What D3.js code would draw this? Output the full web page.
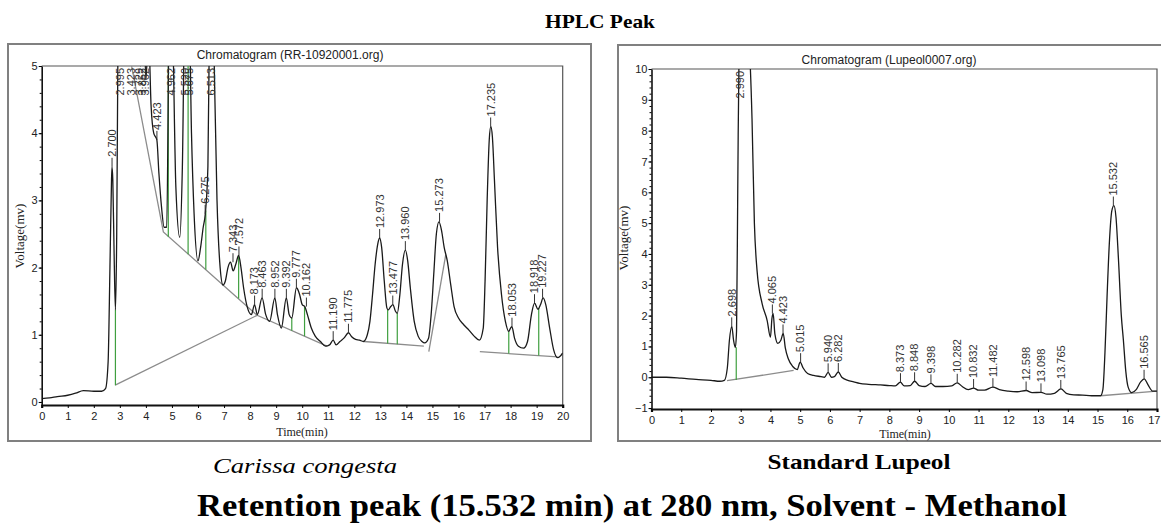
<!DOCTYPE html>
<html>
<head>
<meta charset="utf-8">
<script src="https://cdn.jsdelivr.net/npm/d3@7"></script>
<style>
  body { margin: 0; background: #fff; }
  svg { display: block; }
</style>
</head>
<body>
<div id="chart"></div>
<script>
// ---- data: [time (min), voltage (mv)] ----
const sampleTrace = [
  [0,0.05],[0.3,0.06],[0.6,0.08],[1.0,0.1],[1.3,0.13],[1.6,0.17],[2.0,0.16],[2.3,0.16],[2.45,0.2],
  [2.55,0.6],[2.62,2.0],[2.68,3.3],[2.70,3.5],[2.73,3.3],[2.78,2.2],[2.83,1.37],[2.88,2.5],[2.93,5.5],
  [2.98,7],[3.1,6.5],[3.25,5.8],[3.35,5.3],[3.42,6],[3.5,5.4],[3.6,5.1],[3.7,6],[3.8,5],[3.9,6],
  [4.0,4.8],[4.1,5.5],[4.2,4.4],[4.3,4.0],[4.42,3.9],[4.5,3.4],[4.6,2.9],[4.7,2.6],[4.8,2.6],
  [4.88,5.5],[4.96,7],[5.05,5.2],[5.15,3.2],[5.3,2.45],[5.4,3.5],[5.5,6],[5.58,5.2],[5.65,6],
  [5.75,4],[5.85,2.8],[6.0,2.1],[6.1,2.3],[6.2,2.6],[6.28,2.8],[6.38,3.5],[6.45,6],[6.52,7],
  [6.6,5.5],[6.73,3.0],[6.85,2.0],[6.96,1.74],[7.05,1.8],[7.15,2.0],[7.25,2.08],[7.35,1.95],
  [7.45,2.05],[7.56,2.18],[7.65,2.0],[7.75,1.7],[7.9,1.4],[8.05,1.3],[8.17,1.45],[8.28,1.3],
  [8.46,1.55],[8.6,1.3],[8.75,1.2],[8.95,1.55],[9.05,1.3],[9.2,1.1],[9.39,1.55],[9.5,1.3],
  [9.6,1.25],[9.78,1.7],[9.9,1.6],[10.0,1.45],[10.1,1.42],[10.2,1.3],[10.35,1.1],[10.5,0.98],
  [10.7,0.9],[10.9,0.83],[11.05,0.85],[11.19,0.92],[11.3,0.85],[11.45,0.9],[11.6,0.95],
  [11.78,1.03],[11.9,0.97],[12.05,0.93],[12.2,0.92],[12.35,0.9],[12.5,1.0],[12.6,1.2],[12.7,1.6],
  [12.8,2.05],[12.9,2.35],[12.97,2.44],[13.05,2.3],[13.15,1.8],[13.25,1.4],[13.3,1.37],
  [13.4,1.42],[13.48,1.45],[13.58,1.35],[13.65,1.32],[13.75,1.6],[13.85,2.05],[13.96,2.26],
  [14.05,2.1],[14.15,1.7],[14.3,1.2],[14.45,0.98],[14.6,0.9],[14.7,0.88],[14.85,0.95],[14.95,1.3],
  [15.05,1.9],[15.15,2.5],[15.25,2.68],[15.35,2.55],[15.45,2.3],[15.57,2.1],[15.7,1.75],
  [15.83,1.42],[16.0,1.25],[16.2,1.15],[16.4,1.07],[16.6,0.98],[16.8,0.92],[16.95,1.1],
  [17.02,1.8],[17.1,3.0],[17.18,3.9],[17.24,4.1],[17.3,3.95],[17.38,3.3],[17.5,2.3],[17.65,1.6],
  [17.8,1.2],[17.93,1.05],[18.0,1.1],[18.05,1.12],[18.15,0.95],[18.3,0.83],[18.5,0.8],
  [18.65,0.9],[18.8,1.3],[18.92,1.47],[19.05,1.38],[19.15,1.45],[19.25,1.55],[19.35,1.45],
  [19.5,1.1],[19.65,0.78],[19.8,0.66],[19.9,0.68],[20.0,0.73]
];

// [retention time, label, apex voltage]
const samplePeaks = [
  [2.700,"2.700",3.5],[2.995,"2.995",9],[3.423,"3.423",9],[3.729,"3.729",9],[3.852,"3.852",9],
  [3.962,"3.962",9],[4.423,"4.423",3.9],[4.962,"4.962",9],[5.520,"5.520",9],[5.675,"5.675",9],
  [6.275,"6.275",2.8],[6.513,"6.513",9],[7.343,"7.343",2.08],[7.572,"7.572",2.18],
  [8.173,"8.173",1.45],[8.463,"8.463",1.55],[8.952,"8.952",1.55],[9.392,"9.392",1.55],
  [9.777,"9.777",1.7],[10.162,"10.162",1.42],[11.190,"11.190",0.92],[11.775,"11.775",1.03],
  [12.973,"12.973",2.44],[13.477,"13.477",1.45],[13.960,"13.960",2.26],[15.273,"15.273",2.68],
  [17.235,"17.235",4.1],[18.053,"18.053",1.12],[18.918,"18.918",1.47],[19.227,"19.227",1.55]
];

const sampleBaselines = [
  [[2.82,0.25],[8.27,1.29]],
  [[3.45,5.0],[4.67,2.53],[8.27,1.29],[10.95,0.83]],
  [[12.37,0.9],[14.67,0.83]],
  [[14.86,0.75],[15.51,2.19]],
  [[16.82,0.75],[19.8,0.67]]
];

// green drop lines: [time, from, to]
const sampleDrops = [
  [2.83,0.25,1.37],[4.86,2.46,5],[5.62,2.2,5],[6.3,1.97,2.85],[7.56,1.54,2.18],[9.6,1.06,1.25],
  [10.09,0.98,1.42],[13.28,0.87,1.37],[13.65,0.86,1.32],[17.93,0.72,1.05],[19.08,0.69,1.4]
];

const standardTrace = [
  [0,0.0],[0.5,0.0],[1.0,-0.03],[1.5,-0.07],[2.0,-0.1],[2.3,-0.13],[2.45,-0.1],[2.55,0.3],
  [2.62,1.2],[2.7,1.65],[2.76,1.2],[2.82,0.97],[2.86,1.5],[2.9,6],[2.95,11],[3.1,12],[3.3,10.5],
  [3.38,8.4],[3.46,5.0],[3.55,3.46],[3.72,2.39],[3.89,1.84],[4.0,1.3],[4.05,1.9],[4.09,2.07],
  [4.15,1.4],[4.25,1.1],[4.35,1.2],[4.43,1.42],[4.5,0.95],[4.6,0.6],[4.75,0.35],[4.9,0.25],
  [5.0,0.49],[5.1,0.3],[5.25,0.12],[5.45,0.06],[5.7,0.02],[5.82,0.0],[5.94,0.16],[6.05,0.0],
  [6.15,0.02],[6.28,0.17],[6.4,0.0],[6.6,-0.1],[6.8,-0.15],[7.0,-0.2],[7.3,-0.23],[7.7,-0.25],
  [8.0,-0.27],[8.2,-0.28],[8.37,-0.16],[8.5,-0.28],[8.7,-0.27],[8.85,-0.13],[9.0,-0.27],
  [9.2,-0.3],[9.4,-0.2],[9.55,-0.3],[9.8,-0.3],[10.1,-0.28],[10.28,-0.18],[10.45,-0.3],
  [10.65,-0.4],[10.83,-0.35],[11.0,-0.42],[11.2,-0.42],[11.48,-0.32],[11.7,-0.4],[12.0,-0.45],
  [12.3,-0.47],[12.6,-0.43],[12.8,-0.5],[13.1,-0.49],[13.3,-0.55],[13.55,-0.52],[13.77,-0.38],
  [13.95,-0.52],[14.2,-0.57],[14.5,-0.58],[14.8,-0.6],[15.1,-0.6],[15.18,-0.4],[15.25,0.8],
  [15.32,2.6],[15.4,4.4],[15.48,5.4],[15.55,5.57],[15.62,5.2],[15.7,3.9],[15.8,2.0],[15.87,1.2],
  [15.95,0.2],[16.03,-0.32],[16.15,-0.5],[16.3,-0.4],[16.45,-0.15],[16.57,-0.05],[16.7,-0.25],
  [16.85,-0.45],[17.0,-0.45]
];

const standardPeaks = [
  [2.698,"2.698",1.65],[2.990,"2.990",12],[4.065,"4.065",2.07],[4.423,"4.423",1.42],
  [5.015,"5.015",0.49],[5.940,"5.940",0.16],[6.282,"6.282",0.17],[8.373,"8.373",-0.16],
  [8.848,"8.848",-0.13],[9.398,"9.398",-0.2],[10.282,"10.282",-0.18],[10.832,"10.832",-0.35],
  [11.482,"11.482",-0.32],[12.598,"12.598",-0.43],[13.098,"13.098",-0.49],[13.765,"13.765",-0.38],
  [15.532,"15.532",5.57],[16.565,"16.565",-0.05]
];

const standardBaselines = [
  [[2.54,-0.11],[4.78,0.22]],
  [[15.1,-0.6],[17.0,-0.45]]
];

const standardDrops = [[2.85,-0.09,0.97]];

const sampleXTicks = d3.range(0, 21);
const sampleYTicks = d3.range(0, 6);
const standardXTicks = d3.range(0, 18);
const standardYTicks = d3.range(-1, 11);

const svgWidth = 1161;
const svgHeight = 528;

const svg = d3.select("#chart")
  .append("svg")
  .attr("width", svgWidth)
  .attr("height", svgHeight);

const sans = "'Liberation Sans', Arial, sans-serif";
const serif = "'Liberation Serif', 'Times New Roman', serif";

function drawPanel(cfg) {
  const g = svg.append("g");

  // outer grey frame
  g.append("rect")
    .attr("x", cfg.box[0]).attr("y", cfg.box[1])
    .attr("width", cfg.box[2] - cfg.box[0]).attr("height", cfg.box[3] - cfg.box[1])
    .attr("fill", "none").attr("stroke", "#808080").attr("stroke-width", 2);

  const x = d3.scaleLinear().domain(cfg.xDomain).range([cfg.plot.x0, cfg.plot.x1]);
  const y = d3.scaleLinear().domain(cfg.yDomain).range([cfg.plot.y1, cfg.plot.y0]);
  const yMax = cfg.yDomain[1];

  // plot frame (top / right)
  g.append("path")
    .attr("d", `M${cfg.plot.x0},${cfg.plot.y0}H${cfg.plot.x1}V${cfg.plot.y1}`)
    .attr("fill", "none").attr("stroke", "#555").attr("stroke-width", 1.2);

  g.append("text")
    .attr("x", cfg.titleX).attr("y", cfg.titleY)
    .attr("text-anchor", "middle")
    .style("font-family", sans).style("font-size", "12px").attr("fill", "#222")
    .text(cfg.title);

  const clipId = cfg.id + "-clip";
  g.append("clipPath").attr("id", clipId)
    .append("rect")
    .attr("x", cfg.plot.x0).attr("y", cfg.plot.y0)
    .attr("width", cfg.plot.x1 - cfg.plot.x0).attr("height", cfg.plot.y1 - cfg.plot.y0);

  const inner = g.append("g").attr("clip-path", `url(#${clipId})`);

  const line = d3.line().x(d => x(d[0])).y(d => y(d[1]));

  inner.selectAll("path.base")
    .data(cfg.baselines)
    .join("path")
    .attr("class", "base")
    .attr("d", line)
    .attr("fill", "none").attr("stroke", "#8c8c8c").attr("stroke-width", 1.3);

  inner.selectAll("line.drop")
    .data(cfg.drops)
    .join("line")
    .attr("class", "drop")
    .attr("x1", d => x(d[0])).attr("x2", d => x(d[0]))
    .attr("y1", d => y(d[1])).attr("y2", d => y(d[2]))
    .attr("stroke", "#3f9f3f").attr("stroke-width", 1.2);

  inner.append("path")
    .datum(cfg.trace)
    .attr("d", line.curve(d3.curveMonotoneX))
    .attr("fill", "none").attr("stroke", "#1a1a1a").attr("stroke-width", 1.3);

  // peak labels
  const onScale = cfg.peaks.filter(d => d[2] <= yMax);
  inner.selectAll("line.tick")
    .data(onScale)
    .join("line")
    .attr("class", "tick")
    .attr("x1", d => x(d[0])).attr("x2", d => x(d[0]))
    .attr("y1", d => y(d[2])).attr("y2", d => y(d[2]) - 9)
    .attr("stroke", "#333").attr("stroke-width", 1);

  g.append("g").selectAll("text")
    .data(cfg.peaks)
    .join("text")
    .attr("transform", d => d[2] > yMax
      ? `translate(${x(d[0])},${cfg.plot.y0 + 2}) rotate(-90)`
      : `translate(${x(d[0])},${y(d[2]) - 10}) rotate(-90)`)
    .attr("text-anchor", d => d[2] > yMax ? "end" : "start")
    .attr("dy", "0.35em")
    .style("font-family", sans).style("font-size", "11px").attr("fill", "#333")
    .text(d => d[1]);

  // axes
  const xAxis = g.append("g")
    .attr("transform", `translate(0,${cfg.plot.y1})`)
    .call(d3.axisBottom(x).tickValues(cfg.xTicks).tickFormat(d3.format("d")).tickSize(3).tickPadding(4));
  const yAxis = g.append("g")
    .attr("transform", `translate(${cfg.plot.x0},0)`)
    .call(d3.axisLeft(y).tickValues(cfg.yTicks).tickFormat(d3.format("d")).tickSize(3).tickPadding(1).tickSizeOuter(0));

  // minor ticks
  g.append("g")
    .attr("transform", `translate(${cfg.plot.x0},0)`)
    .call(d3.axisLeft(y).ticks(cfg.minorY).tickFormat("").tickSize(2).tickSizeOuter(0))
    .call(a => a.select(".domain").remove());

  xAxis.select(".domain").attr("stroke", "#111").attr("stroke-width", 2.2);
  yAxis.select(".domain").attr("stroke", "#111").attr("stroke-width", 1.6);
  [xAxis, yAxis].forEach(a => a.selectAll("text")
    .style("font-family", sans).style("font-size", "11px").attr("fill", "#222"));

  // keep the last time label inside the window
  if (cfg.x1Edge) {
    xAxis.selectAll(".tick:last-of-type text").attr("text-anchor", "end").attr("x", 3);
  }

  g.append("text")
    .attr("x", cfg.xLabelX).attr("y", cfg.xLabelY)
    .attr("text-anchor", "middle")
    .style("font-family", serif).style("font-size", "12px").attr("fill", "#222")
    .text("Time(min)");

  g.append("text")
    .attr("transform", `translate(${cfg.yLabelX},${cfg.yLabelY}) rotate(-90)`)
    .attr("text-anchor", "middle")
    .style("font-family", serif).style("font-size", "13px").attr("fill", "#222")
    .text("Voltage(mv)");
}

drawPanel({
  id: "sample",
  box: [8, 44, 591, 441],
  plot: { x0: 41.7, x1: 562.7, y0: 66, y1: 405 },
  xDomain: [0, 20], yDomain: [-0.045, 5],
  xTicks: sampleXTicks, yTicks: sampleYTicks, minorY: 25,
  trace: sampleTrace, peaks: samplePeaks, baselines: sampleBaselines, drops: sampleDrops,
  title: "Chromatogram (RR-10920001.org)", titleX: 290, titleY: 59,
  xLabelX: 302, xLabelY: 436, yLabelX: 24, yLabelY: 236
});

drawPanel({
  id: "standard",
  box: [618, 45, 1170, 441],
  plot: { x0: 651.5, x1: 1157, y0: 69, y1: 409 },
  xDomain: [0, 17], yDomain: [-1.03, 10],
  xTicks: standardXTicks, yTicks: standardYTicks, minorY: 55, x1Edge: true,
  trace: standardTrace, peaks: standardPeaks, baselines: standardBaselines, drops: standardDrops,
  title: "Chromatogram (Lupeol0007.org)", titleX: 889, titleY: 64,
  xLabelX: 905, xLabelY: 438, yLabelX: 628, yLabelY: 238
});

// headings and captions
svg.append("text")
  .attr("x", 600).attr("y", 28)
  .attr("text-anchor", "middle")
  .style("font-family", serif).style("font-size", "19px").style("font-weight", "bold")
  .attr("textLength", 110).attr("lengthAdjust", "spacingAndGlyphs")
  .text("HPLC Peak");

svg.append("text")
  .attr("x", 305).attr("y", 473)
  .attr("text-anchor", "middle")
  .style("font-family", serif).style("font-size", "22px").style("font-style", "italic")
  .attr("textLength", 184).attr("lengthAdjust", "spacingAndGlyphs")
  .text("Carissa congesta");

svg.append("text")
  .attr("x", 859).attr("y", 469)
  .attr("text-anchor", "middle")
  .style("font-family", serif).style("font-size", "21px").style("font-weight", "bold")
  .attr("textLength", 183).attr("lengthAdjust", "spacingAndGlyphs")
  .text("Standard Lupeol");

svg.append("text")
  .attr("x", 632).attr("y", 516)
  .attr("text-anchor", "middle")
  .style("font-family", serif).style("font-size", "31px").style("font-weight", "bold")
  .attr("textLength", 870).attr("lengthAdjust", "spacingAndGlyphs")
  .text("Retention peak (15.532 min) at 280 nm, Solvent - Methanol");
</script>
</body>
</html>
